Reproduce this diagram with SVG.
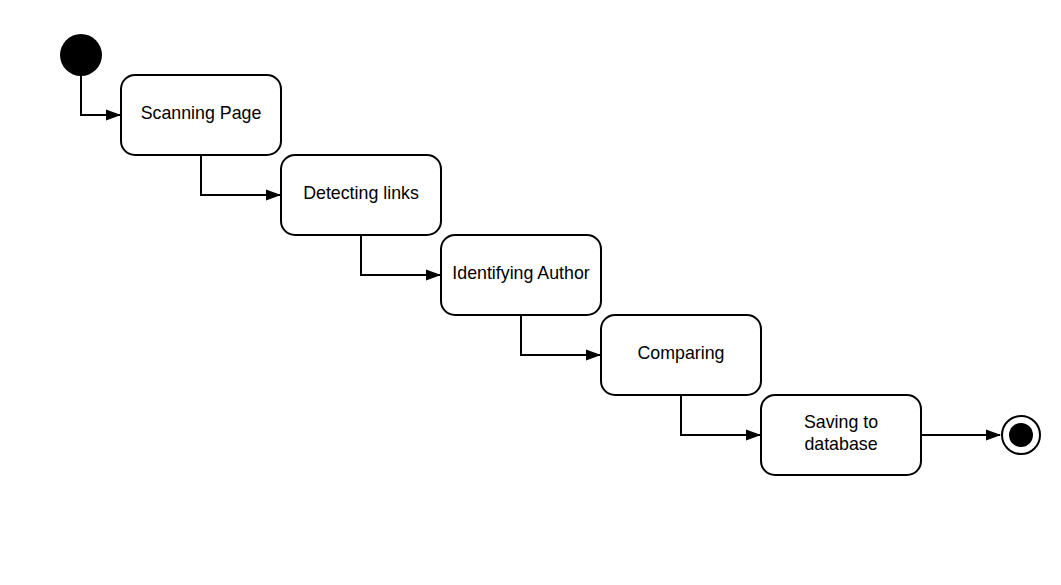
<svg xmlns="http://www.w3.org/2000/svg" width="1061" height="585" viewBox="0 0 1061 585">
<style>
.box{fill:#fff;stroke:#000;stroke-width:2}
.lbl{font-family:"Liberation Sans",Arial,sans-serif;font-size:17.8px;fill:#000;text-anchor:middle}
.con{fill:none;stroke:#000;stroke-width:2}
</style>
<defs>
<marker id="ah" markerWidth="15" markerHeight="12" refX="14" refY="6" orient="auto" markerUnits="userSpaceOnUse">
<path d="M0,0.5 L15,6 L0,11.5 Z" fill="#000"/>
</marker>
</defs>
<rect width="1061" height="585" fill="#fff"/>
<g id="connectors">
<path class="con" d="M81,75 V115 H120" marker-end="url(#ah)"/>
<path class="con" d="M201,155 V195 H280" marker-end="url(#ah)"/>
<path class="con" d="M361,235 V275 H440" marker-end="url(#ah)"/>
<path class="con" d="M521,315 V355 H600" marker-end="url(#ah)"/>
<path class="con" d="M681,395 V435 H760" marker-end="url(#ah)"/>
<path class="con" d="M921,435 H1000" marker-end="url(#ah)"/>
</g>
<g id="start"><circle cx="81" cy="55" r="21" fill="#000"/></g>
<g id="scanning"><rect class="box" x="121" y="75" width="160" height="80" rx="14"/><text class="lbl" x="201" y="119">Scanning Page</text></g>
<g id="detecting"><rect class="box" x="281" y="155" width="160" height="80" rx="14"/><text class="lbl" x="361" y="199">Detecting links</text></g>
<g id="identifying"><rect class="box" x="441" y="235" width="160" height="80" rx="14"/><text class="lbl" x="521" y="279">Identifying Author</text></g>
<g id="comparing"><rect class="box" x="601" y="315" width="160" height="80" rx="14"/><text class="lbl" x="681" y="359">Comparing</text></g>
<g id="saving"><rect class="box" x="761" y="395" width="160" height="80" rx="14"/><text class="lbl" x="841" y="428">Saving to</text><text class="lbl" x="841" y="450">database</text></g>
<g id="end"><circle cx="1021" cy="435" r="19" fill="#fff" stroke="#000" stroke-width="2"/><circle cx="1021" cy="435" r="12" fill="#000"/></g>
</svg>
